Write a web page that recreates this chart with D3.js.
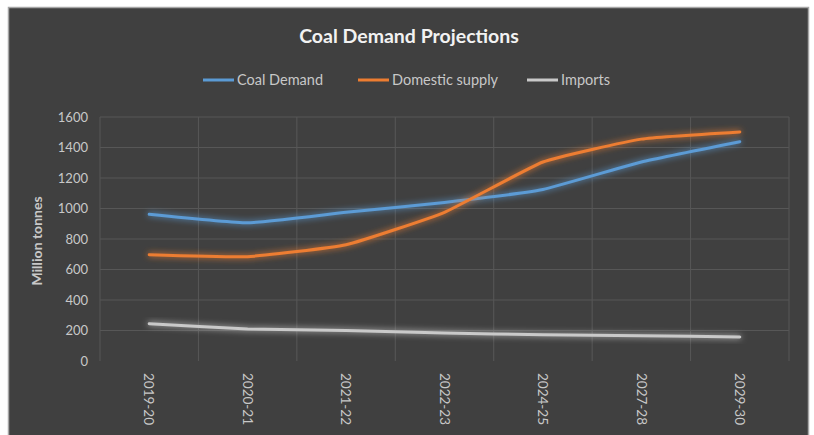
<!DOCTYPE html>
<html>
<head>
<meta charset="utf-8">
<script src="https://cdn.jsdelivr.net/npm/d3@7"></script>
<style>
  html, body { margin: 0; padding: 0; background: #ffffff; }
  svg { display: block; }
  text { font-family: Lato, "Open Sans", sans-serif; }
</style>
</head>
<body>
<svg id="chart" width="814" height="435"></svg>
<script>
const title = "Coal Demand Projections";
const yAxisTitle = "Million tonnes";
const categories = ["2019-20", "2020-21", "2021-22", "2022-23", "2024-25", "2027-28", "2029-30"];
const seriesNames = ["Coal Demand", "Domestic supply", "Imports"];
const coalDemand = [962, 906, 975, 1040, 1125, 1305, 1438];
const domesticSupply = [697, 684, 762, 975, 1305, 1455, 1502];
const imports = [245, 210, 200, 184, 172, 166, 158];
const yTicks = [0, 200, 400, 600, 800, 1000, 1200, 1400, 1600];
const colors = ["#5b9bd5", "#ed7d31", "#c9c9c9"];

const svg = d3.select("#chart");

// frame
svg.append("rect").attr("x", 8.5).attr("y", 7.5).attr("width", 800).attr("height", 440)
  .attr("fill", "#404040").attr("stroke", "#a6a6a6").attr("stroke-width", 1.5);

const defs = svg.append("defs");
const f = defs.append("filter").attr("id", "glow").attr("x", "-10%").attr("y", "-50%").attr("width", "120%").attr("height", "200%");
f.append("feGaussianBlur").attr("in", "SourceGraphic").attr("stdDeviation", 3).attr("result", "b");
const fm = f.append("feMerge");
fm.append("feMergeNode").attr("in", "b");
fm.append("feMergeNode").attr("in", "SourceGraphic");

const plot = { left: 100, right: 789, top: 117, bottom: 361 };

const x = d3.scaleBand().domain(categories).range([plot.left, plot.right]);
const y = d3.scaleLinear().domain([0, 1600]).range([plot.bottom, plot.top]);

// horizontal gridlines
svg.append("g").selectAll("line").data(yTicks.filter(d => d > 0)).join("line")
  .attr("x1", plot.left).attr("x2", plot.right)
  .attr("y1", d => y(d)).attr("y2", d => y(d))
  .attr("stroke", "#575757").attr("stroke-width", 1);

// vertical gridlines at band boundaries
const bounds = categories.map(c => x(c)).concat([plot.right]);
svg.append("g").selectAll("line").data(bounds).join("line")
  .attr("x1", d => d).attr("x2", d => d)
  .attr("y1", plot.top).attr("y2", plot.bottom)
  .attr("stroke", "#575757").attr("stroke-width", 1);

// y axis labels
const yAxis = d3.axisLeft(y).tickValues(yTicks).tickFormat(d3.format("d")).tickSize(0).tickPadding(12);
const yg = svg.append("g").attr("transform", `translate(${plot.left},0)`).call(yAxis);
yg.select(".domain").remove();
yg.selectAll("text").attr("fill", "#c8c8c8").style("font-size", "13px").style("font-family", "Lato, sans-serif");

// x axis labels rotated
const xAxis = d3.axisBottom(x).tickSize(0).tickPadding(0);
const xg = svg.append("g").attr("transform", `translate(0,${plot.bottom})`).call(xAxis);
xg.select(".domain").remove();
xg.selectAll("text")
  .attr("fill", "#c8c8c8").style("font-size", "13.5px").style("font-family", "Lato, sans-serif")
  .attr("transform", "rotate(90)")
  .attr("text-anchor", "start")
  .attr("x", 12).attr("y", 0).attr("dy", "0.35em");

// lines
const data = [coalDemand, domesticSupply, imports];
const line = d3.line()
  .x((d, i) => x(categories[i]) + x.bandwidth() / 2)
  .y(d => y(d))
  .curve(d3.curveCardinal.tension(0.6));

svg.append("g").selectAll("path").data(data).join("path")
  .attr("d", d => line(d))
  .attr("fill", "none")
  .attr("stroke", (d, i) => colors[i])
  .attr("stroke-width", 3)
  .attr("stroke-linecap", "round")
  .attr("filter", "url(#glow)");

// title
svg.append("text").attr("x", 409).attr("y", 43).attr("text-anchor", "middle")
  .attr("fill", "#f2f2f2").style("font-size", "19.5px").style("font-weight", "bold")
  .text(title);

// legend
const legendX = [203, 358, 527];
const lg = svg.append("g");
seriesNames.forEach((n, i) => {
  lg.append("line").attr("x1", legendX[i]).attr("x2", legendX[i] + 31)
    .attr("y1", 80).attr("y2", 80).attr("stroke", colors[i]).attr("stroke-width", 3);
  lg.append("text").attr("x", legendX[i] + 34).attr("y", 80).attr("dy", "0.35em")
    .attr("fill", "#c8c8c8").style("font-size", "14.5px").text(n);
});

// y axis title
svg.append("text").attr("transform", `translate(42,${(plot.top + plot.bottom) / 2 + 2}) rotate(-90)`)
  .attr("text-anchor", "middle").attr("fill", "#c8c8c8")
  .style("font-size", "14px").style("font-weight", "bold")
  .text(yAxisTitle);
</script>
</body>
</html>
